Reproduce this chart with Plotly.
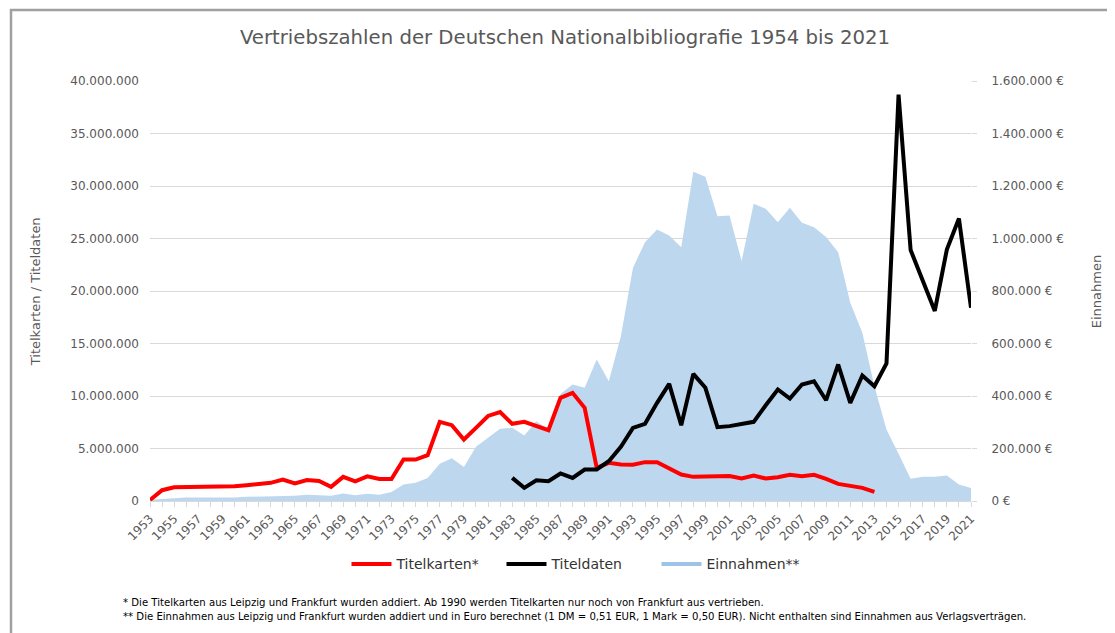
import plotly.graph_objects as go

years = list(range(1953, 2022))

titelkarten = [100000, 1030000, 1300000, 1310000, 1400000, 1400000, 1400000, 1400000,
               1500000, 1600000, 1730000, 2050000, 1670000, 2000000, 1900000, 1350000,
               2300000, 1870000, 2350000, 2100000, 2100000, 3950000, 3950000, 4370000,
               7540000, 7220000, 5860000, 6970000, 8100000, 8470000, 7350000, 7540000,
               7130000, 6750000, 9830000, 10300000, 8870000, 3160000, 3630000, 3480000,
               3450000, 3700000, 3700000, 3060000, 2520000, 2300000, 2300000, 2370000,
               2370000, 2140000, 2430000, 2140000, 2270000, 2500000, 2370000, 2490000,
               2110000, 1630000, 1410000, 1250000, 870000] + [None] * 8

titeldaten = [None] * 30 + [2200000, 1250000, 1980000, 1890000, 2620000, 2200000, 3000000,
              3000000, 3790000, 5160000, 6970000, 7350000, 9350000, 11160000, 7220000,
              12110000, 10780000, 7030000, 7130000, 7350000, 7540000, 9120000, 10620000,
              9750000, 11100000, 11410000, 9600000, 13000000, 9350000, 11950000, 10930000,
              13100000, 38700000, 23900000, 20900000, 18100000, 23950000, 26900000, 18400000]

einnahmen = [5000, 8000, 10000, 13000, 13000, 13000, 13000, 13000, 16000, 17000, 19000,
             20000, 20000, 24000, 21000, 20000, 29000, 22000, 28000, 24000, 34000, 63000,
             70000, 88000, 142000, 163000, 130000, 207000, 241000, 275000, 279000, 250000,
             304000, 272000, 408000, 444000, 431000, 539000, 456000, 628000, 888000, 986000,
             1034000, 1011000, 967000, 1254000, 1235000, 1085000, 1088000, 914000, 1132000,
             1113000, 1062000, 1117000, 1060000, 1043000, 1006000, 948000, 755000, 641000,
             437000, 272000, 180000, 85000, 92000, 92000, 97000, 63000, 50000]

left_ticks = list(range(0, 40000001, 5000000))
right_ticks = list(range(0, 1600001, 200000))
x_ticks = list(range(1953, 2022, 2))


def de(v):
    return f"{v:,}".replace(",", ".")


left_labels = [de(v) for v in left_ticks]
right_labels = [de(v) + " €" for v in right_ticks]

# page body has an 8px margin: lay out in reference pixels, shift by OFF
OFF = 8
W, H = 1115 - OFF, 633 - OFF
L, R, T, B = 150 - OFF, 971 - OFF, 81 - OFF, 501.5 - OFF


def px(x):
    return (x - OFF - L) / (R - L)


def py(y):
    return (B - (y - OFF)) / (B - T)


FONT = "DejaVu Sans"
GRAY = "#595959"

fig = go.Figure()
fig.add_trace(go.Scatter(x=years, y=einnahmen, mode="lines", fill="tozeroy",
                         fillcolor="#BDD7EE", line=dict(width=0, color="#BDD7EE"),
                         showlegend=False, yaxis="y", hoverinfo="skip"))
fig.add_trace(go.Scatter(x=years, y=titelkarten, mode="lines", name="Titelkarten*",
                         line=dict(color="#FF0000", width=4), yaxis="y2", legendrank=1))
fig.add_trace(go.Scatter(x=years, y=titeldaten, mode="lines", name="Titeldaten",
                         line=dict(color="#000000", width=4), yaxis="y2", legendrank=2))
fig.add_trace(go.Scatter(x=[None], y=[None], mode="lines", name="Einnahmen**",
                         line=dict(color="#9DC3E6", width=4), yaxis="y2", legendrank=3))

fig.update_layout(
    width=W, height=H,
    margin=dict(l=L, r=W - R, t=T, b=H - B, autoexpand=False),
    paper_bgcolor="white", plot_bgcolor="white",
    font=dict(family=FONT, color=GRAY, size=12),
    title=dict(text="Vertriebszahlen der Deutschen Nationalbibliografie 1954 bis 2021",
               x=px(565), xref="paper", xanchor="center",
               y=1 - (37 - OFF) / H, yref="container", yanchor="middle",
               font=dict(family=FONT, size=19.7, color=GRAY)),
    xaxis=dict(range=[1953, 2021], tickvals=x_ticks, ticktext=[str(v) for v in x_ticks],
               tickangle=-45, tickfont=dict(size=12, color=GRAY),
               showgrid=False, zeroline=False, showline=True, linecolor="#D9D9D9",
               ticks="outside", ticklen=5, tickcolor="#D9D9D9",
               minor=dict(dtick=1, tick0=1953, ticks="outside", ticklen=5, tickcolor="#D9D9D9")),
    yaxis=dict(side="right", range=[0, 1600000], tickvals=right_ticks, ticktext=right_labels,
               showgrid=True, gridcolor="#D9D9D9",
               zeroline=False, tickfont=dict(size=12, color=GRAY),
               ticks="outside", ticklen=5, tickcolor="#D9D9D9", ticklabelstandoff=12),
    yaxis2=dict(side="left", overlaying="y", range=[0, 40000000], tickvals=left_ticks,
                ticktext=left_labels, showgrid=False, zeroline=False,
                tickfont=dict(size=12, color=GRAY), ticklabelstandoff=10),
    legend=dict(orientation="h", x=px(579), xanchor="center", y=py(565), yanchor="middle",
                font=dict(size=14, color="#333333"), itemwidth=40,
                entrywidth=100, entrywidthmode="pixels",
                traceorder="normal", bgcolor="rgba(0,0,0,0)"),
    showlegend=True,
)

fig.add_annotation(text="Titelkarten / Titeldaten", textangle=-90, x=px(26), y=py(292),
                   xref="paper", yref="paper", showarrow=False,
                   font=dict(size=13, color=GRAY, family=FONT))
fig.add_annotation(text="Einnahmen", textangle=-90, x=px(1106), y=py(292),
                   xref="paper", yref="paper", showarrow=False,
                   font=dict(size=13, color=GRAY, family=FONT))
fig.add_annotation(text="* Die Titelkarten aus Leipzig und Frankfurt wurden addiert. Ab 1990 werden Titelkarten nur noch von Frankfurt aus vertrieben.",
                   x=px(121), y=py(603), xref="paper", yref="paper", xanchor="left",
                   yanchor="middle", showarrow=False,
                   font=dict(size=10.15, color="#000000", family=FONT))
fig.add_annotation(text="** Die Einnahmen aus Leipzig und Frankfurt wurden addiert und in Euro berechnet (1 DM = 0,51 EUR, 1 Mark = 0,50 EUR). Nicht enthalten sind Einnahmen aus Verlagsverträgen.",
                   x=px(121), y=py(617), xref="paper", yref="paper", xanchor="left",
                   yanchor="middle", showarrow=False,
                   font=dict(size=10.15, color="#000000", family=FONT))

# chart border (top and left edges visible)
fig.add_shape(type="line", xref="paper", yref="paper", x0=px(10), x1=px(1125),
              y0=py(10), y1=py(10), line=dict(color="#A0A0A0", width=2.5))
fig.add_shape(type="line", xref="paper", yref="paper", x0=px(11), x1=px(11),
              y0=py(9), y1=py(645), line=dict(color="#A0A0A0", width=2.5))

fig.write_html("out.html")
